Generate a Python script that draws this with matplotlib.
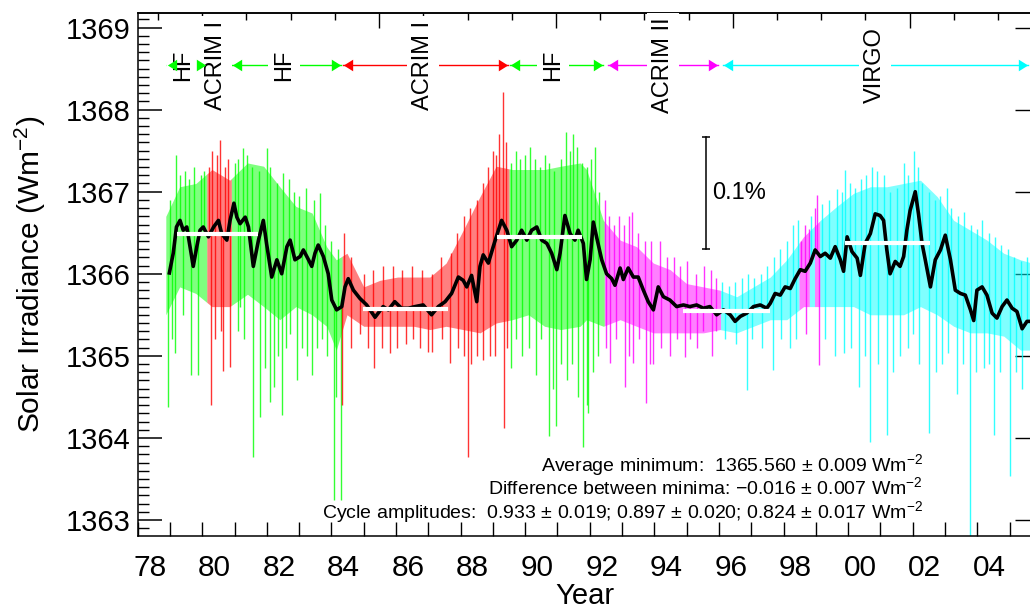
import numpy as np
import matplotlib
matplotlib.use('Agg')
import matplotlib.pyplot as plt
from matplotlib import transforms
from matplotlib.ticker import MultipleLocator, FixedLocator, NullFormatter

plt.rcParams['font.family'] = ['Liberation Sans', 'DejaVu Sans']
plt.rcParams['mathtext.fontset'] = 'custom'
plt.rcParams['mathtext.rm'] = 'Liberation Sans'
plt.rcParams['mathtext.it'] = 'Liberation Sans:italic'
plt.rcParams['mathtext.bf'] = 'Liberation Sans:bold'

# ---------------- data ----------------
# 81-day smoothed composite (black line)
smooth_year = [1978.98, 1979.10, 1979.20, 1979.31, 1979.41, 1979.52, 1979.62, 1979.72, 1979.83, 1979.93,
               1980.03, 1980.19, 1980.35, 1980.50, 1980.60, 1980.76, 1980.86, 1980.98, 1981.07, 1981.17,
               1981.33, 1981.43, 1981.58, 1981.74, 1981.89, 1981.99, 1982.15, 1982.31, 1982.46, 1982.62,
               1982.72, 1982.87, 1983.03, 1983.13, 1983.29, 1983.39, 1983.49, 1983.59, 1983.75, 1983.90,
               1984.01, 1984.16, 1984.32, 1984.42, 1984.52, 1984.68, 1984.88, 1985.09, 1985.35, 1985.60,
               1985.76, 1985.96, 1986.17, 1986.38, 1986.59, 1986.84, 1987.10, 1987.31, 1987.52, 1987.72,
               1987.93, 1988.08, 1988.19, 1988.34, 1988.50, 1988.60, 1988.70, 1988.86, 1989.01, 1989.17,
               1989.27, 1989.43, 1989.58, 1989.74, 1989.89, 1990.05, 1990.20, 1990.36, 1990.51, 1990.67,
               1990.82, 1990.98, 1991.08, 1991.23, 1991.39, 1991.54, 1991.64, 1991.80, 1991.90, 1992.01,
               1992.11, 1992.21, 1992.37, 1992.52, 1992.68, 1992.78, 1992.94, 1993.04, 1993.19, 1993.35,
               1993.50, 1993.66, 1993.81, 1993.97, 1994.12, 1994.28, 1994.48, 1994.69, 1994.90, 1995.10,
               1995.31, 1995.52, 1995.72, 1995.93, 1996.14, 1996.35, 1996.50, 1996.66, 1996.86, 1997.07,
               1997.28, 1997.48, 1997.59, 1997.74, 1997.90, 1998.05, 1998.21, 1998.36, 1998.52, 1998.67,
               1998.83, 1998.98, 1999.14, 1999.29, 1999.45, 1999.60, 1999.76, 1999.86, 1999.97, 2000.12,
               2000.28, 2000.38, 2000.53, 2000.69, 2000.84, 2000.99, 2001.10, 2001.20, 2001.30, 2001.46,
               2001.61, 2001.72, 2001.82, 2001.92, 2002.08, 2002.18, 2002.29, 2002.39, 2002.55, 2002.70,
               2002.86, 2003.01, 2003.17, 2003.32, 2003.48, 2003.63, 2003.79, 2003.89, 2003.99, 2004.15,
               2004.30, 2004.46, 2004.61, 2004.77, 2004.92, 2005.08, 2005.23, 2005.39, 2005.54, 2005.64]
smooth_val = [1366.01, 1366.25, 1366.57, 1366.65, 1366.53, 1366.57, 1366.33, 1366.09, 1366.33, 1366.53,
              1366.57, 1366.45, 1366.57, 1366.65, 1366.49, 1366.41, 1366.65, 1366.86, 1366.69, 1366.61,
              1366.69, 1366.57, 1366.09, 1366.41, 1366.65, 1366.37, 1365.96, 1366.17, 1366.00, 1366.33,
              1366.41, 1366.17, 1366.21, 1366.29, 1366.17, 1366.09, 1366.25, 1366.35, 1366.21, 1366.00,
              1365.68, 1365.56, 1365.60, 1365.84, 1365.94, 1365.80, 1365.70, 1365.62, 1365.47, 1365.60,
              1365.56, 1365.66, 1365.58, 1365.58, 1365.60, 1365.62, 1365.50, 1365.60, 1365.66, 1365.76,
              1365.96, 1365.92, 1365.84, 1365.98, 1365.66, 1366.09, 1366.23, 1366.13, 1366.33, 1366.53,
              1366.65, 1366.53, 1366.33, 1366.41, 1366.53, 1366.41, 1366.53, 1366.57, 1366.41, 1366.37,
              1366.25, 1366.05, 1366.25, 1366.71, 1366.49, 1366.41, 1366.53, 1366.37, 1365.93, 1366.17,
              1366.63, 1366.45, 1366.17, 1366.00, 1365.94, 1365.86, 1366.07, 1365.93, 1366.07, 1365.96,
              1365.96, 1365.80, 1365.66, 1365.56, 1365.84, 1365.72, 1365.68, 1365.60, 1365.62, 1365.60,
              1365.62, 1365.58, 1365.60, 1365.50, 1365.56, 1365.50, 1365.42, 1365.48, 1365.52, 1365.60,
              1365.62, 1365.58, 1365.64, 1365.76, 1365.74, 1365.84, 1365.82, 1365.94, 1366.05, 1366.03,
              1366.13, 1366.29, 1366.21, 1366.25, 1366.19, 1366.33, 1366.17, 1366.03, 1366.45, 1366.27,
              1366.19, 1365.98, 1366.37, 1366.49, 1366.73, 1366.71, 1366.65, 1366.29, 1366.00, 1366.15,
              1366.09, 1366.21, 1366.53, 1366.77, 1367.00, 1366.73, 1366.37, 1366.17, 1365.84, 1366.17,
              1366.29, 1366.47, 1366.17, 1365.80, 1365.76, 1365.74, 1365.56, 1365.43, 1365.80, 1365.84,
              1365.74, 1365.52, 1365.46, 1365.60, 1365.68, 1365.58, 1365.54, 1365.33, 1365.42, 1365.42]

# dense band of daily values (outer envelope)
band_year = [1978.87, 1979.30, 1979.80, 1980.30, 1980.85, 1981.40, 1981.90, 1982.40, 1982.90, 1983.40,
             1983.85, 1984.15, 1984.48, 1985.00, 1985.50, 1986.05, 1986.55, 1987.05, 1987.55, 1988.08,
             1988.60, 1989.10, 1989.60, 1990.10, 1990.60, 1991.10, 1991.70, 1991.90, 1992.42, 1992.94,
             1993.45, 1993.97, 1994.49, 1995.00, 1995.52, 1996.03, 1996.55, 1997.07, 1997.59, 1998.10,
             1998.62, 1999.14, 1999.65, 2000.17, 2000.69, 2001.20, 2001.72, 2002.24, 2002.76, 2003.27,
             2003.79, 2004.30, 2004.82, 2005.34, 2005.70]
band_hi = [1366.70, 1367.06, 1367.10, 1367.27, 1367.14, 1367.35, 1367.31, 1367.06, 1366.82, 1366.74,
           1366.33, 1366.17, 1366.25, 1365.84, 1365.92, 1365.96, 1365.96, 1365.96, 1366.13, 1366.53,
           1366.94, 1367.31, 1367.27, 1367.27, 1367.27, 1367.31, 1367.35, 1367.27, 1366.65, 1366.41,
           1366.33, 1366.13, 1366.05, 1365.88, 1365.84, 1365.80, 1365.72, 1365.84, 1365.96, 1366.17,
           1366.45, 1366.65, 1366.82, 1366.98, 1367.06, 1367.06, 1367.10, 1367.14, 1366.94, 1366.65,
           1366.53, 1366.41, 1366.25, 1366.17, 1366.13]
band_lo = [1365.50, 1365.84, 1365.76, 1365.60, 1365.60, 1365.75, 1365.60, 1365.44, 1365.60, 1365.50,
           1365.36, 1365.07, 1365.50, 1365.36, 1365.36, 1365.36, 1365.36, 1365.32, 1365.36, 1365.32,
           1365.28, 1365.40, 1365.44, 1365.50, 1365.36, 1365.32, 1365.36, 1365.44, 1365.36, 1365.44,
           1365.36, 1365.28, 1365.28, 1365.28, 1365.28, 1365.32, 1365.28, 1365.36, 1365.44, 1365.44,
           1365.60, 1365.60, 1365.60, 1365.60, 1365.50, 1365.50, 1365.50, 1365.60, 1365.50, 1365.36,
           1365.28, 1365.28, 1365.24, 1365.07, 1365.07]

# which instrument supplies the daily values
seg_start = [1978.87, 1980.14, 1980.90, 1984.33, 1989.50, 1992.45, 1996.05, 1998.48, 1998.80, 1998.96, 1999.12]
seg_end   = [1980.14, 1980.90, 1984.33, 1989.50, 1992.45, 1996.05, 1998.48, 1998.80, 1998.96, 1999.12, 2005.70]
seg_inst  = ['HF', 'ACRIM I', 'HF', 'ACRIM I', 'HF', 'ACRIM II', 'VIRGO', 'ACRIM II', 'VIRGO', 'ACRIM II', 'VIRGO']

# prominent individual daily excursions (tip values)
hf_spike_year = [1979.00, 1979.18, 1979.30, 1979.45, 1979.60, 1979.75, 1979.95, 1980.05, 1981.00, 1981.12,
                 1981.26, 1981.40, 1981.55, 1981.75, 1981.99, 1982.10, 1982.30, 1982.51, 1982.70, 1982.85,
                 1983.00, 1983.20, 1983.45, 1983.64, 1983.80, 1984.00, 1984.20,
                 1978.95, 1979.05, 1979.16, 1979.41, 1979.64, 1979.86, 1981.10, 1981.17, 1981.30, 1981.56,
                 1981.79, 1981.94, 1982.10, 1982.22, 1982.35, 1982.48, 1982.60, 1982.72, 1982.94, 1983.10,
                 1983.25, 1983.39, 1983.55, 1983.70, 1983.85, 1984.08, 1984.15, 1984.30,
                 1989.55, 1989.70, 1989.85, 1990.00, 1990.15, 1990.30, 1990.45, 1990.60, 1990.75, 1990.90,
                 1991.10, 1991.26, 1991.40, 1991.49, 1991.60, 1991.75, 1991.90, 1992.05, 1992.16, 1992.30,
                 1989.57, 1989.72, 1989.90, 1990.12, 1990.32, 1990.50, 1990.74, 1990.85, 1990.94, 1991.12,
                 1991.30, 1991.46, 1991.62, 1991.80, 1991.92, 1991.96, 1992.10, 1992.25]
hf_spike_val = [1366.90, 1367.45, 1367.20, 1367.25, 1367.15, 1367.30, 1367.20, 1367.25, 1367.35, 1367.40,
                1367.53, 1367.45, 1367.30, 1367.25, 1367.53, 1367.30, 1367.10, 1367.23, 1367.15, 1367.00,
                1366.95, 1367.05, 1366.90, 1366.98, 1366.60, 1366.40, 1366.30,
                1364.38, 1365.20, 1365.03, 1365.50, 1364.77, 1364.77, 1365.30, 1365.60, 1365.20, 1363.77,
                1364.26, 1364.85, 1364.44, 1364.62, 1365.00, 1364.28, 1365.10, 1365.27, 1364.70, 1365.10,
                1365.00, 1364.77, 1365.10, 1365.20, 1365.00, 1363.24, 1364.50, 1363.24,
                1367.35, 1367.50, 1367.40, 1367.45, 1367.55, 1367.40, 1367.30, 1367.45, 1367.35, 1367.25,
                1367.40, 1367.73, 1367.50, 1367.70, 1367.55, 1367.35, 1367.30, 1367.40, 1367.55, 1367.00,
                1364.85, 1365.20, 1365.00, 1365.10, 1364.77, 1365.20, 1364.02, 1364.60, 1364.14, 1364.90,
                1364.70, 1364.90, 1364.50, 1363.89, 1364.40, 1364.30, 1364.80, 1365.00]

acrim1_spike_year = [1980.20, 1980.30, 1980.45, 1980.55, 1980.70, 1980.80,
                     1980.26, 1980.40, 1980.57, 1980.65, 1980.86,
                     1984.40, 1984.60, 1985.00, 1985.30, 1985.60, 1985.90, 1986.20, 1986.50, 1986.80, 1987.10,
                     1987.40, 1987.70, 1987.90, 1988.10, 1988.30, 1988.50, 1988.70, 1988.85, 1989.00, 1989.10,
                     1989.20, 1989.31, 1989.40,
                     1984.34, 1984.62, 1984.89, 1985.12, 1985.32, 1985.56, 1985.80, 1986.02, 1986.30, 1986.52,
                     1986.75, 1986.98, 1987.12, 1987.42, 1987.66, 1987.92, 1988.12, 1988.22, 1988.33, 1988.52,
                     1988.69, 1988.90, 1989.05, 1989.33, 1989.45]
acrim1_spike_val = [1367.30, 1367.50, 1367.45, 1367.63, 1367.30, 1367.40,
                    1364.40, 1365.20, 1365.30, 1364.81, 1364.87,
                    1366.50, 1366.20, 1366.00, 1366.05, 1366.10, 1366.10, 1366.05, 1366.10, 1366.05, 1366.00,
                    1366.20, 1366.25, 1366.50, 1366.70, 1366.80, 1366.90, 1367.10, 1367.30, 1367.50, 1367.45,
                    1367.70, 1368.21, 1367.60,
                    1364.40, 1365.10, 1365.27, 1365.10, 1364.85, 1365.10, 1365.03, 1365.10, 1365.15, 1365.20,
                    1365.10, 1365.05, 1365.05, 1365.20, 1364.91, 1365.10, 1365.00, 1363.77, 1364.90, 1365.00,
                    1364.95, 1365.00, 1365.00, 1364.12, 1365.10]

acrim2_spike_year = [1992.47, 1992.60, 1992.75, 1992.90, 1993.05, 1993.20, 1993.30, 1993.50, 1993.70, 1993.90,
                     1994.18, 1994.40, 1994.60, 1994.80, 1995.00, 1995.30, 1995.55, 1995.75, 1995.90,
                     1998.55, 1998.67, 1998.78, 1998.98, 1999.05,
                     1992.50, 1992.63, 1992.80, 1993.09, 1993.22, 1993.35, 1993.52, 1993.74, 1993.85, 1993.97,
                     1994.20, 1994.50, 1994.70, 1994.95, 1995.10, 1995.32, 1995.50, 1995.78, 1995.92,
                     1998.69, 1999.10]
acrim2_spike_val = [1366.90, 1366.70, 1366.60, 1366.70, 1366.60, 1366.70, 1366.75, 1366.50, 1366.40, 1366.40,
                    1366.40, 1366.20, 1366.20, 1366.10, 1366.15, 1366.00, 1366.10, 1366.05, 1365.95,
                    1366.40, 1366.60, 1366.55, 1366.80, 1366.96,
                    1365.10, 1364.91, 1365.20, 1364.62, 1365.00, 1364.91, 1365.20, 1364.42, 1364.90, 1364.90,
                    1365.10, 1365.00, 1365.20, 1364.99, 1365.20, 1365.10, 1365.30, 1365.00, 1365.30,
                    1365.27, 1364.89]

virgo_spike_year = [1996.10, 1996.30, 1996.50, 1996.70, 1996.90, 1997.10, 1997.30, 1997.50, 1997.70, 1997.90,
                    1998.10, 1998.30, 1998.45, 1998.85, 1999.20, 1999.40, 1999.65, 1999.80, 1999.91, 2000.05,
                    2000.20, 2000.40, 2000.55, 2000.74, 2000.90, 2001.10, 2001.30, 2001.50, 2001.72, 2001.85,
                    2002.03, 2002.15, 2002.30, 2002.50, 2002.70, 2002.85, 2003.06, 2003.20, 2003.40, 2003.60,
                    2003.80, 2004.00, 2004.15, 2004.35, 2004.55, 2004.75, 2004.95, 2005.15, 2005.35, 2005.55,
                    1996.20, 1996.52, 1996.86, 1997.02, 1997.32, 1997.67, 1997.92, 1998.20, 1998.40, 1999.30,
                    1999.60, 1999.86, 2000.10, 2000.33, 2000.52, 2000.69, 2000.92, 2001.20, 2001.40, 2001.60,
                    2001.87, 2002.00, 2002.20, 2002.50, 2002.72, 2002.90, 2003.10, 2003.37, 2003.55, 2003.76,
                    2003.95, 2004.20, 2004.37, 2004.53, 2004.70, 2005.02, 2005.20, 2005.40]
virgo_spike_val = [1365.90, 1365.85, 1365.90, 1365.95, 1366.00, 1365.95, 1366.00, 1366.10, 1366.20, 1366.30,
                   1366.40, 1366.60, 1366.65, 1366.70, 1366.85, 1366.90, 1367.03, 1367.00, 1367.26, 1367.10,
                   1367.05, 1367.15, 1367.20, 1367.30, 1367.25, 1367.20, 1367.00, 1367.05, 1367.35, 1367.20,
                   1367.50, 1367.30, 1367.10, 1367.00, 1366.90, 1366.95, 1367.05, 1366.80, 1366.70, 1366.75,
                   1366.60, 1366.55, 1366.65, 1366.50, 1366.45, 1366.35, 1366.30, 1366.20, 1366.15, 1366.20,
                   1365.20, 1365.15, 1364.58, 1365.20, 1365.10, 1364.83, 1365.20, 1365.10, 1365.20, 1365.20,
                   1365.00, 1365.03, 1365.10, 1364.62, 1365.00, 1363.95, 1364.90, 1364.03, 1364.80, 1365.00,
                   1365.10, 1365.27, 1364.90, 1364.06, 1364.80, 1364.90, 1365.03, 1364.54, 1364.90, 1362.50,
                   1364.80, 1364.85, 1364.90, 1364.03, 1364.80, 1363.53, 1364.80, 1364.60]

# horizontal levels of the cycle maxima / minima (white bars)
level_start = [1979.21, 1984.99, 1989.12, 1994.90, 1999.90]
level_end   = [1981.73, 1987.62, 1991.75, 1997.58, 2002.54]
level_val   = [1366.48, 1365.567, 1366.45, 1365.55, 1366.38]

# instrument bar at the top
arrow_start = [1978.91, 1980.92, 1984.36, 1989.53, 1992.56, 1996.13]
arrow_end   = [1980.12, 1984.30, 1989.47, 1992.41, 1995.97, 2005.57]
arrow_inst  = ['HF', 'HF', 'ACRIM I', 'HF', 'ACRIM II', 'VIRGO']
label_year  = [1979.40, 1980.42, 1982.53, 1986.83, 1990.86, 1994.27, 2000.84]
label_text  = ['HF', 'ACRIM I', 'HF', 'ACRIM I', 'HF', 'ACRIM II', 'VIRGO']
bar_level = 1368.54

year_labels = ['78', '80', '82', '84', '86', '88', '90', '92', '94', '96', '98', '00', '02', '04']
year_label_pos = [1978, 1980, 1982, 1984, 1986, 1988, 1990, 1992, 1994, 1996, 1998, 2000, 2002, 2004]

scale_year = 1995.59
scale_center = 1366.985
scale_height = 1.366   # 0.1 % of 1366 W m-2

notes = ['Average minimum:  1365.560 \u00b1 0.009 Wm$^{-2}$',
         'Difference between minima: \u22120.016 \u00b1 0.007 Wm$^{-2}$',
         'Cycle amplitudes:  0.933 \u00b1 0.019; 0.897 \u00b1 0.020; 0.824 \u00b1 0.017 Wm$^{-2}$']
note_val = [1363.60, 1363.31, 1363.02]
note_year = 2002.32

# ---------------- styling ----------------
inst_color = {'HF': '#00ff00', 'ACRIM I': '#ff0000', 'ACRIM II': '#ff00ff', 'VIRGO': '#00ffff'}

fig = plt.figure(figsize=(10.3, 6.1), dpi=100)
ax = fig.add_axes([0.1337, 0.12131, 0.8683, 0.85738])
ax.set_xlim(1978.0, 1978.0 + 0.8683 * 1030 / 32.29)
ax.set_ylim(1362.805, 1369.177)

# dense band of daily data
for s, e, inst in zip(seg_start, seg_end, seg_inst):
    inner = [y for y in band_year if s < y < e]
    xs = np.array([s] + inner + [e])
    hi = np.interp(xs, band_year, band_hi)
    lo = np.interp(xs, band_year, band_lo)
    ax.fill_between(xs, lo, hi, color=inst_color[inst], alpha=0.5, lw=0, zorder=1)

# individual daily excursions
for yrs, vals, inst in [(hf_spike_year, hf_spike_val, 'HF'),
                        (acrim1_spike_year, acrim1_spike_val, 'ACRIM I'),
                        (acrim2_spike_year, acrim2_spike_val, 'ACRIM II'),
                        (virgo_spike_year, virgo_spike_val, 'VIRGO')]:
    yrs = np.array(yrs)
    base = np.interp(yrs, smooth_year, smooth_val)
    ax.vlines(yrs, base, vals, colors=inst_color[inst], lw=1.0, alpha=0.8, zorder=2)

ax.plot(smooth_year, smooth_val, color='black', lw=2.6, zorder=4, solid_joinstyle='round')
ax.hlines(level_val, level_start, level_end, colors='white', lw=3.0, zorder=5)

# instrument bar
for s, e, inst in zip(arrow_start, arrow_end, arrow_inst):
    c = inst_color[inst]
    ax.plot([s, e], [bar_level, bar_level], color=c, lw=1.0, zorder=3)
left_tri = [(-0.8, 0), (0.8, -1), (0.8, 1)]
right_tri = [(0.8, 0), (-0.8, -1), (-0.8, 1)]
ms = 8.4
tl = transforms.offset_copy(ax.transData, fig=fig, x=0.4 * ms, y=0, units='points')
tr = transforms.offset_copy(ax.transData, fig=fig, x=-0.4 * ms, y=0, units='points')
for s, e, inst in zip(arrow_start, arrow_end, arrow_inst):
    c = inst_color[inst]
    ax.plot([s], [bar_level], marker=left_tri, ms=ms, color=c, mew=0, transform=tl, zorder=7, clip_on=False)
    ax.plot([e], [bar_level], marker=right_tri, ms=ms, color=c, mew=0, transform=tr, zorder=7, clip_on=False)
for x, t in zip(label_year, label_text):
    ax.text(x, bar_level, t, rotation=90, ha='center', va='center', fontsize=17, zorder=6,
            bbox=dict(boxstyle='square,pad=0.2', fc='white', ec='none'))

# 0.1 % scale bar
ax.plot([scale_year, scale_year], [scale_center - scale_height / 2, scale_center + scale_height / 2],
        color='black', lw=1.1, zorder=6)
ax.plot([scale_year, scale_year], [scale_center - scale_height / 2, scale_center + scale_height / 2],
        ls='none', marker='_', ms=6, mew=1.1, color='black', zorder=6)
ax.text(scale_year + 0.19, scale_center, '0.1%', fontsize=17, va='center', ha='left')

for t, v in zip(notes, note_val):
    ax.text(note_year, v, t, fontsize=14, ha='right', va='baseline', zorder=6)

# axes styling
for sp in ax.spines.values():
    sp.set_linewidth(1.1)
ax.yaxis.set_major_locator(MultipleLocator(1))
ax.yaxis.set_minor_locator(MultipleLocator(0.1))
ax.yaxis.set_major_formatter(plt.FuncFormatter(lambda v, p: '%d' % round(v)))
ax.tick_params(axis='y', which='major', direction='in', length=17, width=1.1, left=True, right=False,
               labelsize=21, pad=5)
ax.tick_params(axis='y', which='minor', direction='in', length=8, width=1.0, left=True, right=False)

ax.xaxis.set_major_locator(FixedLocator([p + 0.37 for p in year_label_pos]))
ax.set_xticklabels(year_labels)
ax.xaxis.set_minor_locator(MultipleLocator(1))
ax.tick_params(axis='x', which='major', length=0, labelsize=21.5, pad=13, bottom=True, top=False)
ax.tick_params(axis='x', which='minor', direction='in', length=10, width=1.0, bottom=True, top=False)

secx = ax.secondary_xaxis('top', functions=(lambda y: (y - 1980.0) * 365.25, lambda d: d / 365.25 + 1980.0))
secx.xaxis.set_major_locator(MultipleLocator(2000))
secx.xaxis.set_minor_locator(MultipleLocator(500))
secx.xaxis.set_major_formatter(NullFormatter())
secx.tick_params(axis='x', which='major', direction='in', length=11, width=1.0)
secx.tick_params(axis='x', which='minor', direction='in', length=5, width=1.0)
secx.spines['top'].set_linewidth(1.1)

secy = ax.secondary_yaxis('right')
secy.yaxis.set_major_locator(MultipleLocator(1))
secy.yaxis.set_minor_locator(plt.NullLocator())
secy.yaxis.set_major_formatter(NullFormatter())
secy.tick_params(axis='y', which='major', direction='in', length=12, width=1.0)

ax.set_ylabel('Solar Irradiance (Wm$^{-2}$)', fontsize=21.5, labelpad=13)
ax.set_xlabel('Year', fontsize=21, labelpad=0)

fig.savefig('out.png', dpi=100)
